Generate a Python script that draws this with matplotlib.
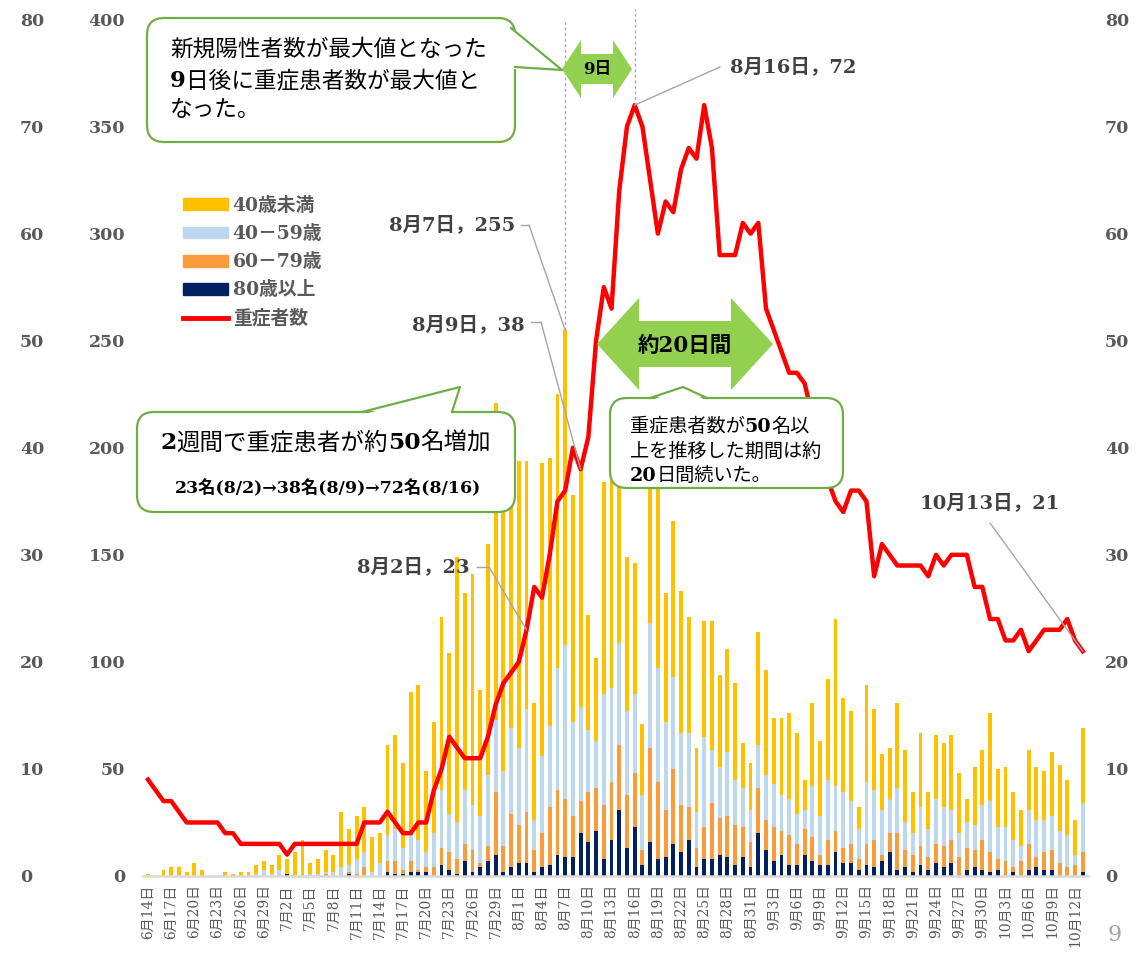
import datetime as dt
import matplotlib
matplotlib.use("Agg")
import matplotlib.pyplot as plt
from matplotlib.patches import FancyBboxPatch, Polygon, Patch, ConnectionPatch
from matplotlib.lines import Line2D
from matplotlib.transforms import IdentityTransform
from matplotlib.font_manager import FontProperties

# ---------------- data ----------------
start_date = dt.date(2020, 6, 14)
n_days = 122
dates = [start_date + dt.timedelta(days=k) for k in range(n_days)]
date_labels = [f"{d.month}月{d.day}日" for d in dates]

over80 = [0,0,0,0,0,0,0,0,0,0,
          0,0,0,0,0,0,0,0,1,0,
          0,0,0,0,0,0,1,0,0,0,
          0,2,1,1,2,2,2,0,5,3,
          1,7,2,4,7,10,2,4,6,6,
          2,4,5,10,9,9,20,16,21,8,
          17,31,13,23,5,16,8,9,15,11,
          17,4,8,8,10,9,5,9,4,20,
          12,7,10,5,5,10,7,5,5,11,
          6,6,3,5,4,7,11,3,4,2,
          5,3,6,4,6,0,3,4,3,2,
          3,0,2,0,3,4,3,3,0,0,
          0,2]
age60_79 = [0,0,0,0,0,0,0,0,0,0,
            0,0,0,0,0,0,0,0,0,0,
            0,0,0,1,0,0,1,1,4,0,
            0,5,6,2,5,1,2,4,8,8,
            7,8,10,2,7,29,12,25,18,24,
            10,16,27,30,27,19,15,23,20,25,
            27,30,25,25,7,44,36,22,35,22,
            15,9,15,26,17,19,19,14,12,21,
            14,16,11,14,10,12,11,5,12,10,
            7,9,5,10,13,3,9,17,8,8,
            9,6,9,10,11,9,10,8,14,9,
            5,7,2,7,12,5,8,9,6,4,
            5,9]
age40_59 = [0,0,0,0,0,0,0,0,0,0,
            0,0,0,0,1,3,1,3,0,0,
            0,1,1,1,2,4,3,7,7,2,
            6,12,15,10,12,14,7,16,27,18,
            17,25,21,22,33,34,35,40,36,48,
            14,36,38,57,72,44,44,29,22,52,
            44,48,39,37,26,58,53,41,43,34,
            35,17,42,25,24,30,21,18,15,20,
            21,20,17,17,14,9,24,18,28,21,
            26,20,14,29,23,21,16,21,13,10,
            18,13,21,18,14,11,12,12,16,24,
            15,16,13,7,16,17,15,16,15,15,
            5,23]
under40 = [1,0,3,4,4,2,6,3,0,0,
           2,1,2,2,4,4,4,7,7,11,
           17,5,7,10,8,26,17,20,21,16,
           14,42,44,40,67,72,38,52,81,75,
           124,92,108,59,108,148,167,123,134,116,
           55,137,125,128,147,106,111,54,39,99,
           97,101,72,61,33,87,93,60,73,66,
           54,30,54,60,43,48,45,21,22,53,
           49,31,36,40,38,14,39,35,47,78,
           44,42,10,45,38,26,24,40,34,19,
           35,17,30,30,35,28,11,27,26,41,
           27,28,22,17,28,25,23,30,31,26,
           16,35]
severe = [9,8,7,7,6,5,5,5,5,5,
          4,4,3,3,3,3,3,3,2,3,
          3,3,3,3,3,3,3,3,5,5,
          5,6,5,4,4,5,5,8,10,13,
          12,11,11,11,13,16,18,19,20,23,
          27,26,30,35,36,40,38,41,50,55,
          53,64,70,72,70,65,60,63,62,66,
          68,67,72,68,58,58,58,61,60,61,
          53,51,49,47,47,46,43,40,37,35,
          34,36,36,35,28,31,30,29,29,29,
          29,28,30,29,30,30,30,27,27,24,
          24,22,22,23,21,22,23,23,23,24,
          22,21]

series_names = ["40歳未満", "40－59歳", "60－79歳", "80歳以上", "重症者数"]
left_ticks = [0, 50, 100, 150, 200, 250, 300, 350, 400]
right_ticks = [0, 10, 20, 30, 40, 50, 60, 70, 80]

# ---------------- styling ----------------
C_Y, C_LB, C_OR, C_DK, C_RED = "#FFC000", "#BDD7EE", "#FA9B3C", "#002060", "#FF0000"
GREEN_EDGE, GREEN_FILL = "#70AD47", "#92D050"
GRAY = "#595959"
LBL = "#404040"
FAM = ["DejaVu Serif", "Noto Sans CJK JP"]
plt.rcParams["font.family"] = FAM

W, H = 1144, 957
fig = plt.figure(figsize=(W / 100, H / 100), dpi=100)
ID = IdentityTransform()

def P(x, y):
    return (x, H - y)

L, R, T, B = 142.6, 1088.0, 19.5, 876.0
ax = fig.add_axes([L / W, 1 - B / H, (R - L) / W, (B - T) / H])
xs = list(range(n_days))

bottom = [0] * n_days
for vals, col in [(over80, C_DK), (age60_79, C_OR), (age40_59, C_LB), (under40, C_Y)]:
    ax.bar(xs, vals, width=0.5, bottom=bottom, color=col, zorder=2, linewidth=0)
    bottom = [b + v for b, v in zip(bottom, vals)]
totals = bottom

ax.set_xlim(-0.7, 121.68)
ax.set_ylim(0, 400)
for s in ["top", "left", "right"]:
    ax.spines[s].set_visible(False)
ax.spines["bottom"].set_color("#D9D9D9")
ax.spines["bottom"].set_linewidth(1.8)
ax.set_yticks(left_ticks)
ax.set_yticklabels([str(v) for v in left_ticks], fontsize=12.5, fontweight="bold",
                   family="DejaVu Serif", color=GRAY)
ax.tick_params(axis="y", length=0, pad=12.5)
ax.set_xticks(xs[::3])
ax.set_xticklabels(date_labels[::3], rotation=90, fontsize=10, color=GRAY, family=FAM)
ax.tick_params(axis="x", length=0, pad=6)

ax2 = ax.twinx()
ax2.set_ylim(0, 80)
ax2.plot(xs, severe, color=C_RED, lw=3.2, zorder=3, solid_joinstyle="round")
for s in ax2.spines.values():
    s.set_visible(False)
ax2.set_yticks(right_ticks)
ax2.set_yticklabels([str(v) for v in right_ticks], fontsize=12.5, fontweight="bold",
                    family="DejaVu Serif", color=GRAY)
ax2.tick_params(axis="y", length=0, pad=12.2)

ax3 = ax.twinx()
ax3.set_ylim(0, 80)
for s in ax3.spines.values():
    s.set_visible(False)
ax3.yaxis.tick_left()
ax3.set_yticks(right_ticks)
ax3.set_yticklabels([str(v) for v in right_ticks], fontsize=12.5, fontweight="bold",
                    family="DejaVu Serif", color=GRAY, ha="left")
ax3.tick_params(axis="y", length=0, pad=(L - 20) * 0.72)

# dashed marker lines
i_max_new = totals.index(max(totals))
i_max_sev = severe.index(max(severe))
ax.plot([i_max_new, i_max_new], [totals[i_max_new], 400], color="#A6A6A6", lw=1,
        ls=(0, (2, 2)), zorder=4, clip_on=False)
ax2.plot([i_max_sev, i_max_sev], [severe[i_max_sev], 81], color="#A6A6A6", lw=1,
         ls=(0, (2, 2)), zorder=4, clip_on=False)

# legend
handles = [Patch(color=C_Y), Patch(color=C_LB), Patch(color=C_OR), Patch(color=C_DK),
           Line2D([0], [0], color=C_RED, lw=3.5)]
fig.legend(handles, series_names, loc="upper left", bbox_to_anchor=(183 / W, 1 - 197 / H),
           frameon=False, prop=FontProperties(family=FAM, weight="bold", size=13.5),
           labelcolor=GRAY, handlelength=2.4, handleheight=0.6, handletextpad=0.25,
           labelspacing=0.54, borderpad=0, borderaxespad=0)

renderer = fig.canvas.get_renderer()

def rich(x, y, parts, size, ha="left", color="black", z=8):
    texts = []
    for s, w in parts:
        t = fig.text(0, 0, s, fontsize=size, fontweight=w, family=FAM, color=color,
                     va="baseline", ha="left", zorder=z)
        texts.append(t)
    widths = [t.get_window_extent(renderer).width for t in texts]
    tot = sum(widths)
    cur = x - (tot / 2 if ha == "center" else tot if ha == "right" else 0)
    for t, w in zip(texts, widths):
        t.set_position((cur / W, 1 - y / H))
        cur += w

def callout(x0, y0, x1, y1, tail, cover):
    box = FancyBboxPatch(P(x0, y1), x1 - x0, y1 - y0,
                         boxstyle="round,pad=0,rounding_size=17", transform=ID,
                         facecolor="white", edgecolor=GREEN_EDGE, lw=1.6, zorder=5)
    fig.add_artist(box)
    fig.add_artist(Polygon([P(*p) for p in cover], closed=True, transform=ID,
                           facecolor="white", edgecolor="none", zorder=6))
    fig.add_artist(Line2D([P(*p)[0] for p in tail], [P(*p)[1] for p in tail],
                          transform=ID, color=GREEN_EDGE, lw=1.6, zorder=7))

# callout 1 (top)
callout(147, 18, 515, 142,
        tail=[(511, 28), (562, 70), (515, 67)],
        cover=[(509, 27), (562, 70), (512, 69), (508, 50)])
rich(170, 56, [("新規陽性者数が最大値となった", "normal")], 16.3)
rich(170, 87, [("9", "bold"), ("日後に重症患者数が最大値と", "normal")], 16.3)
rich(170, 116, [("なった。", "normal")], 16.3)

# callout 2
callout(610, 398, 843, 488,
        tail=[(650, 398), (683, 387), (707, 398)],
        cover=[(651, 400.5), (683, 387.8), (706, 400.5)])
rich(630, 432, [("重症患者数が", "normal"), ("50", "bold"), ("名以", "normal")], 13.8)
rich(630, 457, [("上を推移した期間は約", "normal")], 13.8)
rich(630, 481, [("20", "bold"), ("日間続いた。", "normal")], 13.8)

# callout 3
callout(137, 412, 515, 512,
        tail=[(362, 412), (460, 387), (452, 412)],
        cover=[(363, 414.5), (460, 387.8), (451, 414.5)])
rich(160, 449, [("2", "bold"), ("週間で重症患者が約", "normal"), ("50", "bold"),
                ("名増加", "normal")], 16.9)
rich(328, 493, [("23名(8/2)→38名(8/9)→72名(8/16)", "bold")], 12.5, ha="center")

# green double arrows
def dbl_arrow(pts):
    fig.add_artist(Polygon([P(*p) for p in pts], closed=True, transform=ID,
                           facecolor=GREEN_FILL, edgecolor="none", zorder=5))

dbl_arrow([(562, 69), (581, 40), (581, 54), (613, 54), (613, 40), (632, 69),
           (613, 98), (613, 84), (581, 84), (581, 98)])
rich(597, 74, [("9日", "bold")], 12, ha="center")
dbl_arrow([(597, 344), (639, 298), (639, 321), (731, 321), (731, 298), (773, 344),
           (731, 390), (731, 367), (639, 367), (639, 390)])
rich(685, 352, [("約20日間", "bold")], 15.5, ha="center")

# data labels with leader lines
def day_idx(m, d):
    return (dt.date(2020, m, d) - start_date).days

def lbl_text(i, v):
    return f"{dates[i].month}月{dates[i].day}日，{v}"

def leader(points_px, target, axis):
    if len(points_px) > 1:
        fig.add_artist(Line2D([P(*p)[0] for p in points_px], [P(*p)[1] for p in points_px],
                              transform=ID, color="#A6A6A6", lw=1, zorder=4))
    cp = ConnectionPatch(xyA=P(*points_px[-1]), coordsA="figure pixels",
                         xyB=target, coordsB=axis.transData, color="#A6A6A6", lw=1, zorder=4)
    fig.add_artist(cp)

LS = 14
fig.text(730 / W, 1 - 67 / H, lbl_text(i_max_sev, severe[i_max_sev]), fontsize=LS,
         fontweight="bold", color=LBL, ha="left", va="center", zorder=8)
leader([(720, 67)], (i_max_sev, severe[i_max_sev]), ax2)

fig.text(515 / W, 1 - 225 / H, lbl_text(i_max_new, totals[i_max_new]), fontsize=LS,
         fontweight="bold", color=LBL, ha="right", va="center", zorder=8)
leader([(521, 225), (529, 225)], (i_max_new, totals[i_max_new]), ax)

i89 = day_idx(8, 9)
fig.text(525 / W, 1 - 325 / H, lbl_text(i89, severe[i89]), fontsize=LS,
         fontweight="bold", color=LBL, ha="right", va="center", zorder=8)
leader([(531, 322), (541, 322)], (i89, severe[i89]), ax2)

i82 = day_idx(8, 2)
fig.text(470 / W, 1 - 567 / H, lbl_text(i82, severe[i82]), fontsize=LS,
         fontweight="bold", color=LBL, ha="right", va="center", zorder=8)
leader([(477, 567), (489, 567)], (i82, severe[i82]), ax2)

il = n_days - 1
fig.text(990 / W, 1 - 503 / H, lbl_text(il, severe[il]), fontsize=LS,
         fontweight="bold", color=LBL, ha="center", va="center", zorder=8)
leader([(990, 523)], (il, severe[il]), ax2)

fig.text(1115 / W, 1 - 935 / H, "9", fontsize=16, color="#A6A6A6", ha="center",
         va="center", family="DejaVu Serif")

fig.savefig("out.png", dpi=100)
